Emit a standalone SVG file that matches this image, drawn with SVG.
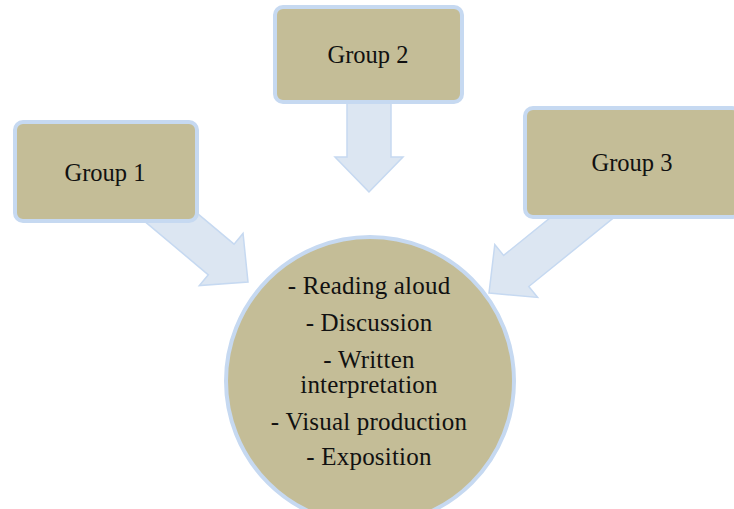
<svg xmlns="http://www.w3.org/2000/svg" width="734" height="509" viewBox="0 0 734 509">
  <style>
    .box { fill: #c4bd97; stroke: #c6d9f1; stroke-width: 4; }
    .hub { fill: #c4bd97; stroke: #c6d9f1; stroke-width: 4; }
    .arrow { fill: #dce6f2; stroke: #c6d9f1; stroke-width: 1.5; stroke-linejoin: miter; }
    .label { font-family: 'Liberation Serif', 'DejaVu Serif', serif; font-size: 24.5px; fill: #111; text-anchor: middle; }
    .item { font-size: 25px; letter-spacing: 0.2px; }
  </style>
  <defs>
    <!-- block arrow pointing along +x, tip at the origin -->
    <path id="blockArrow" d="M0,0 L-35,-34 L-35,-20 L-150,-20 L-150,20 L-35,20 L-35,34 Z"/>
  </defs>

  <rect width="734" height="509" fill="#ffffff"/>

  <g id="activities">
    <circle class="hub" cx="370" cy="381" r="144"/>
    <text class="label item" x="369" y="294">- Reading aloud</text>
    <text class="label item" x="369" y="331">- Discussion</text>
    <text class="label item" x="369" y="368">- Written</text>
    <text class="label item" x="369" y="393">interpretation</text>
    <text class="label item" x="369" y="430">- Visual production</text>
    <text class="label item" x="369" y="465">- Exposition</text>
  </g>

  <g id="connectors">
    <use href="#blockArrow" class="arrow" transform="translate(248,282) rotate(40)"/>
    <path class="arrow" d="M369,192 L335,157 L347,157 L347,90 L391,90 L391,157 L403,157 Z"/>
    <use href="#blockArrow" class="arrow" transform="translate(489,293) rotate(141)"/>
  </g>

  <g id="group1">
    <rect class="box" x="15" y="122" width="182" height="99" rx="8"/>
    <text class="label" x="105" y="181">Group 1</text>
  </g>

  <g id="group2">
    <rect class="box" x="275" y="7" width="187" height="95" rx="8"/>
    <text class="label" x="368" y="63">Group 2</text>
  </g>

  <g id="group3">
    <rect class="box" x="525" y="108" width="215" height="109" rx="8"/>
    <text class="label" x="632" y="171">Group 3</text>
  </g>
</svg>
